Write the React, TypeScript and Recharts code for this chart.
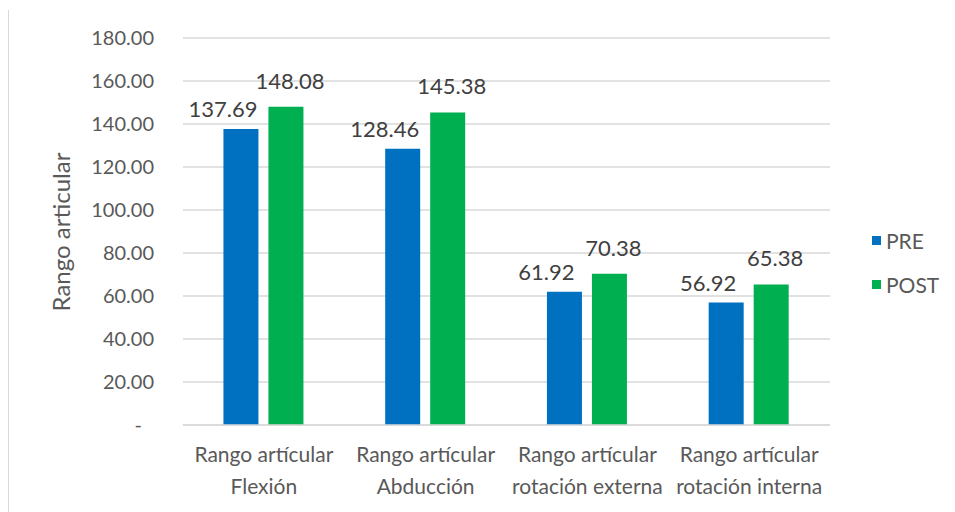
import { BarChart, Bar, XAxis, YAxis, CartesianGrid, LabelList, Legend } from 'recharts';

const categories = [
  ['Rango artícular', 'Flexión'],
  ['Rango artícular', 'Abducción'],
  ['Rango artícular', 'rotación externa'],
  ['Rango artícular', 'rotación interna'],
];
const preValues = [137.69, 128.46, 61.92, 56.92];
const postValues = [148.08, 145.38, 70.38, 65.38];
const yTicks = [0, 20, 40, 60, 80, 100, 120, 140, 160, 180];

const data = categories.map((c, i) => ({
  name: c.join('\n'),
  PRE: preValues[i],
  POST: postValues[i],
}));

const FONT = 'Lato, "Open Sans", sans-serif';
const TEXT = '#595959';

function YTick({ x, y, payload }: any) {
  const v = payload.value;
  return (
    <text x={v === 0 ? x - 33 : x - 21} y={y} dy={7} textAnchor="end" fill={TEXT} fontSize={20} fontFamily={FONT}>
      {v === 0 ? '-' : v.toFixed(2)}
    </text>
  );
}

function XTick({ x, y, payload }: any) {
  const lines = String(payload.value).split('\n');
  return (
    <text x={x} y={y} textAnchor="middle" fill={TEXT} fontSize={21} fontFamily={FONT}>
      {lines.map((l, i) => (
        <tspan key={i} x={x} dy={i === 0 ? 29 : 32}>{l}</tspan>
      ))}
    </text>
  );
}

function LegendBox() {
  const items = [
    { name: 'PRE', color: '#0070C0' },
    { name: 'POST', color: '#00B050' },
  ];
  return (
    <div style={{ fontFamily: FONT, color: TEXT, fontSize: 21 }}>
      {items.map((it) => (
        <div key={it.name} style={{ display: 'flex', alignItems: 'center', height: 44 }}>
          <span style={{ width: 9, height: 9, background: it.color, marginRight: 5, display: 'inline-block' }} />
          {it.name}
        </div>
      ))}
    </div>
  );
}

const fmt = (v: any) => Number(v).toFixed(2);

export default function App() {
  return (
    <div style={{ position: 'absolute', left: 0, top: 0, width: 955, height: 512, background: '#fff' }}>
      <div style={{ position: 'absolute', left: 8, top: 10, width: 1, height: 502, background: '#d9d9d9' }} />
      <div
        style={{
          position: 'absolute',
          left: 60,
          top: 232,
          transform: 'translate(-50%, -50%) rotate(-90deg)',
          fontFamily: FONT,
          fontSize: 24,
          color: TEXT,
          whiteSpace: 'nowrap',
        }}
      >
        Rango articular
      </div>
      <BarChart
        width={955}
        height={512}
        data={data}
        margin={{ top: 38, right: 45, bottom: 0, left: 20 }}
        barCategoryGap="25%"
        barGap={10}
      >
        <CartesianGrid vertical={false} stroke="#d9d9d9" strokeWidth={1.5} />
        <XAxis
          dataKey="name"
          tick={<XTick />}
          tickLine={false}
          axisLine={{ stroke: '#d9d9d9', strokeWidth: 1.5 }}
          interval={0}
          height={87}
        />
        <YAxis
          domain={[0, 180]}
          ticks={yTicks}
          tick={<YTick />}
          tickLine={false}
          axisLine={false}
          width={163}
        />
        <Legend
          layout="vertical"
          align="right"
          verticalAlign="top"
          content={<LegendBox />}
          wrapperStyle={{ left: 872, top: 218, width: 80 }}
        />
        <Bar dataKey="PRE" fill="#0070C0" isAnimationActive={false}>
          <LabelList dataKey="PRE" position="top" offset={12} dx={-18} formatter={fmt} fill="#404040" fontSize={22} fontFamily={FONT} />
        </Bar>
        <Bar dataKey="POST" fill="#00B050" isAnimationActive={false}>
          <LabelList dataKey="POST" position="top" offset={18} dx={4} formatter={fmt} fill="#404040" fontSize={22} fontFamily={FONT} />
        </Bar>
      </BarChart>
    </div>
  );
}
